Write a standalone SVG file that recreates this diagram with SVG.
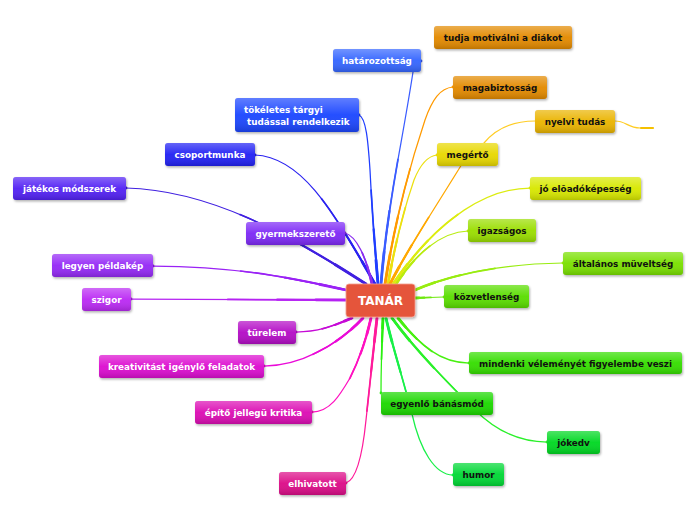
<svg xmlns="http://www.w3.org/2000/svg" xmlns:xlink="http://www.w3.org/1999/xlink" width="696" height="520" viewBox="0 0 696 520">
<style>
  .box{filter:url(#ds)}
  .gl{fill:url(#sh)}
  text{font-family:"DejaVu Sans","Verdana","Liberation Sans",sans-serif;font-weight:bold;font-size:8.8px;text-anchor:middle}
  .tw{fill:#ffffff}
  .tb{fill:#111111}
  .w0{stroke-width:1.25}
  .w1{stroke-width:1.7;stroke-dasharray:0 45 55 0}
  .w2{stroke-width:2.2;stroke-dasharray:0 68 32 0}
  .w3{stroke-width:2.8;stroke-dasharray:0 86 14 0}
  #connectors{fill:none;stroke-linecap:round}
</style>
<defs>
  <filter id="ds" x="-10%" y="-20%" width="130%" height="160%">
    <feDropShadow dx="1" dy="1.5" stdDeviation="1" flood-color="#000" flood-opacity="0.3"/>
  </filter>
  <linearGradient id="sh" x1="0" y1="0" x2="0" y2="1">
    <stop offset="0" stop-color="#fff" stop-opacity="0.3"/>
    <stop offset="0.5" stop-color="#fff" stop-opacity="0.04"/>
    <stop offset="1" stop-color="#000" stop-opacity="0.16"/>
  </linearGradient>
  <path id="c1" pathLength="100" stroke="#3a5cff" d="M421,61 C415,62 414,66 413,72 C401,150 388,200 381,284"/>
  <path id="c2" pathLength="100" stroke="#1f3dff" d="M359,115 C366,118 368,140 370,170 C372,210 375,250 378,284"/>
  <path id="c3" pathLength="100" stroke="#2a22f0" d="M255,155 C300,157 330,205 375,284"/>
  <path id="c4" pathLength="100" stroke="#4020e0" d="M126,188 C210,190 290,235 366,284"/>
  <path id="c5" pathLength="100" stroke="#8a2cf0" d="M345,233 C356,236 366,256 372,284"/>
  <path id="c6" pathLength="100" stroke="#9a22f5" d="M153,266 C240,266 300,280 346,290"/>
  <path id="c7" pathLength="100" stroke="#b522f2" d="M131,299 L346,300"/>
  <path id="c8" pathLength="100" stroke="#c60ad6" d="M296,332 C320,332 335,325 352,318"/>
  <path id="c9" pathLength="100" stroke="#ea0ad8" d="M264,366 C300,366 338,345 363,318"/>
  <path id="c10" pathLength="100" stroke="#ff10c0" d="M312,412 C330,412 340,395 350,378 C360,358 366,340 371,318"/>
  <path id="c11" pathLength="100" stroke="#ff1a9a" d="M346,483 C355,480 362,460 366,420 C370,380 374,345 377,318"/>
  <path id="c12" pathLength="100" stroke="#2af010" d="M381,393 C381,370 382,340 383,318"/>
  <path id="c13" pathLength="100" stroke="#18f048" d="M453,475 C435,475 420,450 412,414 C402,375 392,345 386,318"/>
  <path id="c14" pathLength="100" stroke="#2af02a" d="M547,442 C520,442 495,430 475,410 C450,385 415,350 392,318"/>
  <path id="c15" pathLength="100" stroke="#48f010" d="M469,363 C440,363 420,345 398,318"/>
  <path id="c16" pathLength="100" stroke="#70e810" d="M444,297 L415,298"/>
  <path id="c17" pathLength="100" stroke="#98ec10" d="M563,263 C500,264 450,275 415,290"/>
  <path id="c18" pathLength="100" stroke="#b8ec10" d="M468,231 C440,232 415,255 396,284"/>
  <path id="c19" pathLength="100" stroke="#dcec10" d="M530,188 C490,188 440,215 393,284"/>
  <path id="c20" pathLength="100" stroke="#ece010" d="M437,155 C428,156 420,165 414,180 C402,215 394,250 388,284"/>
  <path id="c21" pathLength="100" stroke="#ff9a00" d="M453,87 C440,88 432,100 425,120 C410,165 395,220 385,284"/>
  <path id="c22" pathLength="100" stroke="#ffa800" d="M462,164 C440,200 410,245 390,284"/>
</defs>

<g id="connectors">
  <use xlink:href="#c1" class="w0"/><use xlink:href="#c1" class="w1"/><use xlink:href="#c1" class="w2"/><use xlink:href="#c1" class="w3"/>
  <use xlink:href="#c2" class="w0"/><use xlink:href="#c2" class="w1"/><use xlink:href="#c2" class="w2"/><use xlink:href="#c2" class="w3"/>
  <use xlink:href="#c3" class="w0"/><use xlink:href="#c3" class="w1"/><use xlink:href="#c3" class="w2"/><use xlink:href="#c3" class="w3"/>
  <use xlink:href="#c4" class="w0"/><use xlink:href="#c4" class="w1"/><use xlink:href="#c4" class="w2"/><use xlink:href="#c4" class="w3"/>
  <use xlink:href="#c5" class="w0"/><use xlink:href="#c5" class="w1"/><use xlink:href="#c5" class="w2"/><use xlink:href="#c5" class="w3"/>
  <use xlink:href="#c6" class="w0"/><use xlink:href="#c6" class="w1"/><use xlink:href="#c6" class="w2"/><use xlink:href="#c6" class="w3"/>
  <use xlink:href="#c7" class="w0"/><use xlink:href="#c7" class="w1"/><use xlink:href="#c7" class="w2"/><use xlink:href="#c7" class="w3"/>
  <use xlink:href="#c8" class="w0"/><use xlink:href="#c8" class="w1"/><use xlink:href="#c8" class="w2"/><use xlink:href="#c8" class="w3"/>
  <use xlink:href="#c9" class="w0"/><use xlink:href="#c9" class="w1"/><use xlink:href="#c9" class="w2"/><use xlink:href="#c9" class="w3"/>
  <use xlink:href="#c10" class="w0"/><use xlink:href="#c10" class="w1"/><use xlink:href="#c10" class="w2"/><use xlink:href="#c10" class="w3"/>
  <use xlink:href="#c11" class="w0"/><use xlink:href="#c11" class="w1"/><use xlink:href="#c11" class="w2"/><use xlink:href="#c11" class="w3"/>
  <use xlink:href="#c12" class="w0"/><use xlink:href="#c12" class="w1"/><use xlink:href="#c12" class="w2"/><use xlink:href="#c12" class="w3"/>
  <use xlink:href="#c13" class="w0"/><use xlink:href="#c13" class="w1"/><use xlink:href="#c13" class="w2"/><use xlink:href="#c13" class="w3"/>
  <use xlink:href="#c14" class="w0"/><use xlink:href="#c14" class="w1"/><use xlink:href="#c14" class="w2"/><use xlink:href="#c14" class="w3"/>
  <use xlink:href="#c15" class="w0"/><use xlink:href="#c15" class="w1"/><use xlink:href="#c15" class="w2"/><use xlink:href="#c15" class="w3"/>
  <use xlink:href="#c16" class="w0"/><use xlink:href="#c16" class="w1"/><use xlink:href="#c16" class="w2"/><use xlink:href="#c16" class="w3"/>
  <use xlink:href="#c17" class="w0"/><use xlink:href="#c17" class="w1"/><use xlink:href="#c17" class="w2"/><use xlink:href="#c17" class="w3"/>
  <use xlink:href="#c18" class="w0"/><use xlink:href="#c18" class="w1"/><use xlink:href="#c18" class="w2"/><use xlink:href="#c18" class="w3"/>
  <use xlink:href="#c19" class="w0"/><use xlink:href="#c19" class="w1"/><use xlink:href="#c19" class="w2"/><use xlink:href="#c19" class="w3"/>
  <use xlink:href="#c20" class="w0"/><use xlink:href="#c20" class="w1"/><use xlink:href="#c20" class="w2"/><use xlink:href="#c20" class="w3"/>
  <use xlink:href="#c21" class="w0"/><use xlink:href="#c21" class="w1"/><use xlink:href="#c21" class="w2"/><use xlink:href="#c21" class="w3"/>
  <use xlink:href="#c22" class="w0"/><use xlink:href="#c22" class="w1"/><use xlink:href="#c22" class="w2"/><use xlink:href="#c22" class="w3"/>
  <path stroke="#ffcc22" stroke-width="1.2" d="M484,143 C495,130 510,121 535,121"/>
  <path stroke="#ffcc22" stroke-width="1.2" d="M615,121 C626,121 628,128 640,128"/>
  <path stroke="#f5c000" stroke-width="2.2" d="M641,128 L653,128"/>
</g>

<g id="n-tanar"><rect class="box" x="346" y="284" width="69" height="33" rx="3" fill="#e5553b" stroke="#f6a090" stroke-width="0.8"/><text class="tw" x="380.5" y="305" style="font-size:12px">TANÁR</text></g>

<g id="n-tudja"><rect class="box" x="434" y="26" width="138" height="23" rx="3" fill="#e38a06"/><rect class="gl" x="434" y="26" width="138" height="23" rx="3"/><text class="tb" x="503" y="41">tudja motiválni a diákot</text></g>
<g id="n-hatarozottsag"><rect class="box" x="333" y="49" width="88" height="23" rx="3" fill="#3466ff"/><rect class="gl" x="333" y="49" width="88" height="23" rx="3"/><text class="tw" x="377" y="64">határozottság</text></g>
<g id="n-magabiztossag"><rect class="box" x="453" y="76" width="94" height="23" rx="3" fill="#e38a06"/><rect class="gl" x="453" y="76" width="94" height="23" rx="3"/><text class="tb" x="500" y="91">magabiztosság</text></g>
<g id="n-nyelvi"><rect class="box" x="535" y="110" width="80" height="23" rx="3" fill="#eab400"/><rect class="gl" x="535" y="110" width="80" height="23" rx="3"/><text class="tb" x="575" y="125">nyelvi tudás</text></g>
<g id="n-tokeletes"><rect class="box" x="235" y="98" width="124" height="34" rx="3" fill="#1c46ff"/><rect class="gl" x="235" y="98" width="124" height="34" rx="3"/><text class="tw" x="244" y="113" style="text-anchor:start">tökéletes tárgyi</text><text class="tw" x="247" y="124.5" style="text-anchor:start">tudással rendelkezik</text></g>
<g id="n-csoportmunka"><rect class="box" x="165" y="143" width="90" height="23" rx="3" fill="#2424f4"/><rect class="gl" x="165" y="143" width="90" height="23" rx="3"/><text class="tw" x="210" y="158">csoportmunka</text></g>
<g id="n-megerto"><rect class="box" x="437" y="143" width="61" height="23" rx="3" fill="#e8d800"/><rect class="gl" x="437" y="143" width="61" height="23" rx="3"/><text class="tb" x="467.5" y="158">megértő</text></g>
<g id="n-jatekos"><rect class="box" x="13" y="177" width="113" height="23" rx="3" fill="#5222f4"/><rect class="gl" x="13" y="177" width="113" height="23" rx="3"/><text class="tw" x="69.5" y="192">játékos módszerek</text></g>
<g id="n-eloado"><rect class="box" x="530" y="177" width="111" height="23" rx="3" fill="#d8e806"/><rect class="gl" x="530" y="177" width="111" height="23" rx="3"/><text class="tb" x="585.5" y="192">jó elõadóképesség</text></g>
<g id="n-gyermekszereto"><rect class="box" x="246" y="222" width="99" height="23" rx="3" fill="#7e2cf6"/><rect class="gl" x="246" y="222" width="99" height="23" rx="3"/><text class="tw" x="295.5" y="237">gyermekszerető</text></g>
<g id="n-igazsagos"><rect class="box" x="468" y="219" width="68" height="23" rx="3" fill="#9ade04"/><rect class="gl" x="468" y="219" width="68" height="23" rx="3"/><text class="tb" x="502" y="234">igazságos</text></g>
<g id="n-peldakep"><rect class="box" x="52" y="254" width="101" height="23" rx="3" fill="#952af6"/><rect class="gl" x="52" y="254" width="101" height="23" rx="3"/><text class="tw" x="102.5" y="269">legyen példakép</text></g>
<g id="n-altalanos"><rect class="box" x="563" y="252" width="120" height="23" rx="3" fill="#7ae004"/><rect class="gl" x="563" y="252" width="120" height="23" rx="3"/><text class="tb" x="623" y="267">általános müveltség</text></g>
<g id="n-szigor"><rect class="box" x="82" y="288" width="49" height="23" rx="3" fill="#bb2cf4"/><rect class="gl" x="82" y="288" width="49" height="23" rx="3"/><text class="tw" x="106.5" y="303">szigor</text></g>
<g id="n-kozvetlenseg"><rect class="box" x="444" y="285" width="85" height="23" rx="3" fill="#5ade04"/><rect class="gl" x="444" y="285" width="85" height="23" rx="3"/><text class="tb" x="486.5" y="300">közvetlenség</text></g>
<g id="n-turelem"><rect class="box" x="238" y="321" width="58" height="23" rx="3" fill="#b40cc6"/><rect class="gl" x="238" y="321" width="58" height="23" rx="3"/><text class="tw" x="267" y="336">türelem</text></g>
<g id="n-kreativitas"><rect class="box" x="99" y="355" width="165" height="23" rx="3" fill="#dc0ad0"/><rect class="gl" x="99" y="355" width="165" height="23" rx="3"/><text class="tw" x="181.5" y="370">kreativitást igénylő feladatok</text></g>
<g id="n-mindenki"><rect class="box" x="469" y="352" width="213" height="22" rx="3" fill="#36de04"/><rect class="gl" x="469" y="352" width="213" height="22" rx="3"/><text class="tb" x="575.5" y="366.5">mindenki véleményét figyelembe veszi</text></g>
<g id="n-epito"><rect class="box" x="195" y="401" width="117" height="23" rx="3" fill="#dc0ab4"/><rect class="gl" x="195" y="401" width="117" height="23" rx="3"/><text class="tw" x="253.5" y="416">építő jellegü kritika</text></g>
<g id="n-egyenlo"><rect class="box" x="381" y="392" width="112" height="23" rx="3" fill="#1ed804"/><rect class="gl" x="381" y="392" width="112" height="23" rx="3"/><text class="tb" x="437" y="407">egyenlő bánásmód</text></g>
<g id="n-jokedv"><rect class="box" x="547" y="431" width="53" height="23" rx="3" fill="#06d820"/><rect class="gl" x="547" y="431" width="53" height="23" rx="3"/><text class="tb" x="573.5" y="446">jókedv</text></g>
<g id="n-humor"><rect class="box" x="453" y="463" width="51" height="23" rx="3" fill="#04d834"/><rect class="gl" x="453" y="463" width="51" height="23" rx="3"/><text class="tb" x="478.5" y="478">humor</text></g>
<g id="n-elhivatott"><rect class="box" x="279" y="472" width="67" height="23" rx="3" fill="#dc0a88"/><rect class="gl" x="279" y="472" width="67" height="23" rx="3"/><text class="tw" x="312.5" y="487">elhivatott</text></g>
</svg>
